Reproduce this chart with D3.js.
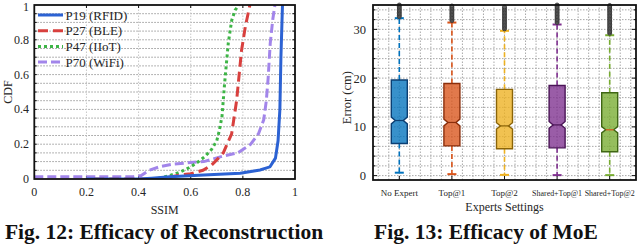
<!DOCTYPE html>
<html>
<head>
<meta charset="utf-8">
<script src="https://cdn.jsdelivr.net/npm/d3@7"></script>
<style>
    body { margin: 0; background: #fff; }
    svg text { font-family: "Liberation Serif", "DejaVu Serif", serif; }
</style>
</head>
<body>
<svg id="fig" width="640" height="247"></svg>
<script>
// Fig. 12 - CDF de SSIM
const ssimTicks = [0, 0.2, 0.4, 0.6, 0.8, 1];
const cdfTicks = [0, 0.2, 0.4, 0.6, 0.8, 1];
const seriesNames = ['P19 (RFID)', 'P27 (BLE)', 'P47 (IIoT)', 'P70 (WiFi)'];
const ssimP19 = [0.2, 0.4, 0.45, 0.52, 0.65, 0.79, 0.866, 0.904, 0.925, 0.935, 0.942, 0.946, 0.95, 0.952];
const cdfP19 = [0, 0, 0.005, 0.013, 0.023, 0.033, 0.052, 0.07, 0.12, 0.22, 0.4, 0.7, 0.9, 1];
const ssimP27 = [0.23, 0.45, 0.5, 0.56, 0.6, 0.647, 0.68, 0.70, 0.725, 0.757, 0.776, 0.795, 0.81, 0.82, 0.827];
const cdfP27 = [0, 0, 0.005, 0.023, 0.03, 0.05, 0.08, 0.11, 0.15, 0.26, 0.45, 0.74, 0.88, 0.95, 1];
const ssimP47 = [0.43, 0.48, 0.52, 0.56, 0.6, 0.63, 0.655, 0.68, 0.70, 0.71, 0.72, 0.73, 0.744, 0.757, 0.77, 0.785];
const cdfP47 = [0, 0.005, 0.02, 0.04, 0.07, 0.1, 0.13, 0.17, 0.22, 0.28, 0.36, 0.55, 0.78, 0.91, 0.97, 1];
const ssimP70 = [0, 0.38, 0.41, 0.44, 0.48, 0.53, 0.6, 0.65, 0.72, 0.78, 0.83, 0.86, 0.88, 0.89, 0.897, 0.905, 0.915, 0.923];
const cdfP70 = [0.013, 0.013, 0.02, 0.05, 0.07, 0.085, 0.095, 0.1, 0.13, 0.15, 0.2, 0.26, 0.34, 0.45, 0.58, 0.78, 0.92, 1];

// Fig. 13 - boxplots de error
const settings = ['No Expert', 'Top@1', 'Top@2', 'Shared+Top@1', 'Shared+Top@2'];
const errorTicks = [0, 10, 20, 30];
const whiskerLow = [0.6, 0.3, 0.15, 0.1, 0.1];
const q1 = [6.6, 6.1, 5.5, 5.7, 4.9];
const median = [11.3, 10.9, 10.2, 10.4, 9.4];
const q3 = [19.6, 18.9, 17.7, 18.5, 17.0];
const whiskerHigh = [32.3, 31.4, 29.7, 31.0, 28.8];
const notch = [0.7, 0.7, 0.65, 0.7, 0.65];
const outliers = [
    [32.6, 32.9, 33.2, 33.5, 33.8, 34.1, 34.4, 34.7, 35.0],
    [31.8, 32.1, 32.4, 32.7, 33.0, 33.3, 33.6, 33.9, 34.2, 34.5, 34.8],
    [30.1, 30.4, 30.7, 31.0, 31.3, 31.6, 31.9, 32.2, 32.5, 32.8, 33.1, 33.4, 33.7, 34.0, 34.3, 34.6],
    [31.4, 31.7, 32.0, 32.3, 32.6, 32.9, 33.2, 33.5, 33.8, 34.1, 34.4, 34.7, 35.0],
    [29.2, 29.5, 29.8, 30.1, 30.4, 30.7, 31.0, 31.3, 31.6, 31.9, 32.2, 32.5, 32.8, 33.1, 33.4, 33.7, 34.0, 34.3, 34.6, 34.9]
];

const lineColors = ['#2c62d3', '#d8403e', '#3db446', '#a285ea'];
const lineDash = [null, '10,5', '3,3', '9,4'];
const boxFill = ['#0072BD', '#D95319', '#EDB120', '#7E2F8E', '#77AC30'];
const boxEdge = ['#0b3f73', '#8a2e0b', '#8a6408', '#4a1456', '#3f6614'];
const medianColor = ['#0b3f73', '#8a2e0b', '#8a6408', '#4a1456', '#d95319'];

const svg = d3.select('#fig');
const tickColor = '#262626';

function drawFrame(g, x0, x1, y0, y1) {
    g.append('rect')
        .attr('x', x0).attr('y', y0)
        .attr('width', x1 - x0).attr('height', y1 - y0)
        .attr('fill', 'none')
        .attr('stroke', '#111')
        .attr('stroke-width', 1.8);
}

function drawCdf() {
    const x = d3.scaleLinear().domain([0, 1]).range([34.3, 295]);
    const y = d3.scaleLinear().domain([0, 1]).range([179, 5]);
    const g = svg.append('g');

    g.append('clipPath').attr('id', 'clipCdf')
        .append('rect').attr('x', 34.3).attr('y', 5).attr('width', 295 - 34.3).attr('height', 174);

    // rejilla
    g.selectAll('.hgrid')
        .data(d3.range(0.05, 1, 0.05))
        .enter().append('line')
        .attr('x1', x(0)).attr('x2', x(1))
        .attr('y1', d => y(d)).attr('y2', d => y(d))
        .attr('stroke', '#9a9a9a').attr('stroke-width', 1)
        .attr('stroke-dasharray', '1.5,1.5');
    g.selectAll('.vgrid')
        .data(ssimTicks.slice(1, -1))
        .enter().append('line')
        .attr('x1', d => x(d)).attr('x2', d => x(d))
        .attr('y1', y(0)).attr('y2', y(1))
        .attr('stroke', '#c8c8c8').attr('stroke-width', 1)
        .attr('stroke-dasharray', '1.5,1.5');

    // marcas hacia dentro
    g.selectAll('.ytickL')
        .data(d3.range(0.05, 1, 0.05))
        .enter().append('line')
        .attr('x1', x(0)).attr('x2', x(0) + 2.5)
        .attr('y1', d => y(d)).attr('y2', d => y(d))
        .attr('stroke', '#111');
    g.selectAll('.ytickR')
        .data(d3.range(0.05, 1, 0.05))
        .enter().append('line')
        .attr('x1', x(1)).attr('x2', x(1) - 2.5)
        .attr('y1', d => y(d)).attr('y2', d => y(d))
        .attr('stroke', '#111');
    g.selectAll('.xtickT')
        .data(ssimTicks.slice(1, -1))
        .enter().append('line')
        .attr('x1', d => x(d)).attr('x2', d => x(d))
        .attr('y1', y(1)).attr('y2', y(1) + 3)
        .attr('stroke', '#111');
    g.selectAll('.xtickB')
        .data(ssimTicks.slice(1, -1))
        .enter().append('line')
        .attr('x1', d => x(d)).attr('x2', d => x(d))
        .attr('y1', y(0)).attr('y2', y(0) - 3)
        .attr('stroke', '#111');

    const series = [
        { xs: ssimP19, ys: cdfP19 },
        { xs: ssimP27, ys: cdfP27 },
        { xs: ssimP47, ys: cdfP47 },
        { xs: ssimP70, ys: cdfP70 }
    ];
    const line = d3.line().x(d => x(d[0])).y(d => y(d[1]));
    // orden de dibujo: WiFi, IIoT, BLE, RFID encima
    [3, 2, 1, 0].forEach(i => {
        const pts = series[i].xs.map((v, k) => [v, series[i].ys[k]]);
        g.append('path')
            .attr('d', line(pts))
            .attr('clip-path', 'url(#clipCdf)')
            .attr('fill', 'none')
            .attr('stroke', lineColors[i])
            .attr('stroke-width', 3)
            .attr('stroke-dasharray', lineDash[i]);
    });

    drawFrame(g, x(0), x(1), y(1), y(0));

    // etiquetas de ejes
    g.selectAll('.xl')
        .data(ssimTicks)
        .enter().append('text')
        .attr('x', d => x(d)).attr('y', 196)
        .attr('text-anchor', 'middle')
        .attr('font-size', 12).attr('fill', tickColor)
        .text(d => d3.format('~g')(d));
    g.selectAll('.yl')
        .data(cdfTicks)
        .enter().append('text')
        .attr('x', 29).attr('y', d => Math.max(y(d) + 4, 11))
        .attr('text-anchor', 'end')
        .attr('font-size', 12).attr('fill', tickColor)
        .text(d => d3.format('~g')(d));
    g.append('text')
        .attr('x', x(0.5)).attr('y', 214)
        .attr('text-anchor', 'middle')
        .attr('font-size', 12).attr('fill', tickColor)
        .text('SSIM');
    g.append('text')
        .attr('transform', `translate(12,${y(0.5)}) rotate(-90)`)
        .attr('text-anchor', 'middle')
        .attr('font-size', 12).attr('fill', tickColor)
        .text('CDF');

    // leyenda
    const leg = g.append('g');
    seriesNames.forEach((name, i) => {
        const ly = 15 + i * 15.7;
        leg.append('line')
            .attr('x1', 38).attr('x2', 63)
            .attr('y1', ly).attr('y2', ly)
            .attr('stroke', lineColors[i])
            .attr('stroke-width', 3)
            .attr('stroke-dasharray', lineDash[i]);
        leg.append('text')
            .attr('x', 65.5).attr('y', ly + 4.5)
            .attr('font-size', 13).attr('fill', tickColor)
            .text(name);
    });
}

function drawBoxes() {
    const x = d3.scaleLinear().domain([0.5, 5.5]).range([373, 636]);
    const y = d3.scaleLinear().domain([-0.9, 35]).range([180, 5]);
    const g = svg.append('g');
    const halfW = 8;

    // rejilla
    g.selectAll('.hgrid')
        .data(d3.range(0, 35, 2))
        .enter().append('line')
        .attr('x1', x(0.5)).attr('x2', x(5.5))
        .attr('y1', d => y(d)).attr('y2', d => y(d))
        .attr('stroke', '#a8a8a8').attr('stroke-width', 1)
        .attr('stroke-dasharray', '1.5,1.5');
    g.selectAll('.vgrid')
        .data(d3.range(0.6, 5.45, 0.2))
        .enter().append('line')
        .attr('x1', d => x(d)).attr('x2', d => x(d))
        .attr('y1', y(-0.9)).attr('y2', y(35))
        .attr('stroke', '#a8a8a8').attr('stroke-width', 1)
        .attr('stroke-dasharray', '1.5,1.5');

    g.selectAll('.ytick')
        .data(d3.range(0, 35, 2))
        .enter().append('line')
        .attr('x1', x(0.5)).attr('x2', d => x(0.5) + (d % 10 === 0 ? 4 : 2.5))
        .attr('y1', d => y(d)).attr('y2', d => y(d))
        .attr('stroke', '#111');
    g.selectAll('.ytickR')
        .data(d3.range(0, 35, 2))
        .enter().append('line')
        .attr('x1', x(5.5)).attr('x2', d => x(5.5) - (d % 10 === 0 ? 4 : 2.5))
        .attr('y1', d => y(d)).attr('y2', d => y(d))
        .attr('stroke', '#111');
    g.selectAll('.xtick')
        .data(d3.range(1, 6))
        .enter().append('line')
        .attr('x1', d => x(d)).attr('x2', d => x(d))
        .attr('y1', y(-0.9)).attr('y2', y(-0.9) - 4)
        .attr('stroke', '#111');

    settings.forEach((name, i) => {
        const cx = x(i + 1);
        const c = boxFill[i];
        // bigotes
        [[q3[i], whiskerHigh[i]], [q1[i], whiskerLow[i]]].forEach(([a, b]) => {
            g.append('line')
                .attr('x1', cx).attr('x2', cx)
                .attr('y1', y(a)).attr('y2', y(b))
                .attr('stroke', c).attr('stroke-width', 1.6)
                .attr('stroke-dasharray', '5,3');
            g.append('line')
                .attr('x1', cx - 4.5).attr('x2', cx + 4.5)
                .attr('y1', y(b)).attr('y2', y(b))
                .attr('stroke', c).attr('stroke-width', 2);
        });
        // caja con muesca
        const nIn = halfW * 0.5;
        const pts = [
            [cx - halfW, y(q1[i])],
            [cx - halfW, y(median[i] - notch[i])],
            [cx - nIn, y(median[i])],
            [cx - halfW, y(median[i] + notch[i])],
            [cx - halfW, y(q3[i])],
            [cx + halfW, y(q3[i])],
            [cx + halfW, y(median[i] + notch[i])],
            [cx + nIn, y(median[i])],
            [cx + halfW, y(median[i] - notch[i])],
            [cx + halfW, y(q1[i])]
        ];
        g.append('path')
            .attr('d', d3.line()(pts) + 'Z')
            .attr('fill', c).attr('fill-opacity', 0.78)
            .attr('stroke', boxEdge[i]).attr('stroke-width', 1.4);
        g.append('line')
            .attr('x1', cx - nIn).attr('x2', cx + nIn)
            .attr('y1', y(median[i])).attr('y2', y(median[i]))
            .attr('stroke', medianColor[i]).attr('stroke-width', 1.2);
        // atipicos
        g.selectAll(null)
            .data(outliers[i])
            .enter().append('circle')
            .attr('cx', cx).attr('cy', d => y(d))
            .attr('r', 2)
            .attr('fill', '#666')
            .attr('stroke', '#333').attr('stroke-width', 0.8);

        const label = g.append('text')
            .attr('x', cx).attr('y', 196)
            .attr('text-anchor', 'middle')
            .attr('font-size', 9).attr('fill', tickColor)
            .text(name);
        // comprimir etiquetas largas como en la figura original
        const w = label.node().getComputedTextLength();
        if (w > 50) {
            label.attr('textLength', 50).attr('lengthAdjust', 'spacingAndGlyphs');
        }
    });

    drawFrame(g, x(0.5), x(5.5), y(35), y(-0.9));

    g.selectAll('.yl')
        .data(errorTicks)
        .enter().append('text')
        .attr('x', 366).attr('y', d => y(d) + 4.5)
        .attr('text-anchor', 'end')
        .attr('font-size', 12.5).attr('fill', tickColor)
        .text(d => d);
    g.append('text')
        .attr('transform', `translate(351,${y(16)}) rotate(-90)`)
        .attr('text-anchor', 'middle')
        .attr('font-size', 12.5).attr('fill', tickColor)
        .text('Error (cm)');
    g.append('text')
        .attr('x', x(3)).attr('y', 211)
        .attr('text-anchor', 'middle')
        .attr('font-size', 12).attr('fill', tickColor)
        .text('Experts Settings');
}

function drawTitles() {
    svg.append('text')
        .attr('x', 164).attr('y', 239)
        .attr('text-anchor', 'middle')
        .attr('font-size', 21.5).attr('font-weight', 'bold')
        .attr('fill', '#111')
        .text('Fig. 12: Efficacy of Reconstruction');
    svg.append('text')
        .attr('x', 486).attr('y', 239)
        .attr('text-anchor', 'middle')
        .attr('font-size', 21.5).attr('font-weight', 'bold')
        .attr('fill', '#111')
        .text('Fig. 13: Efficacy of MoE');
}

drawCdf();
drawBoxes();
drawTitles();
</script>
</body>
</html>
